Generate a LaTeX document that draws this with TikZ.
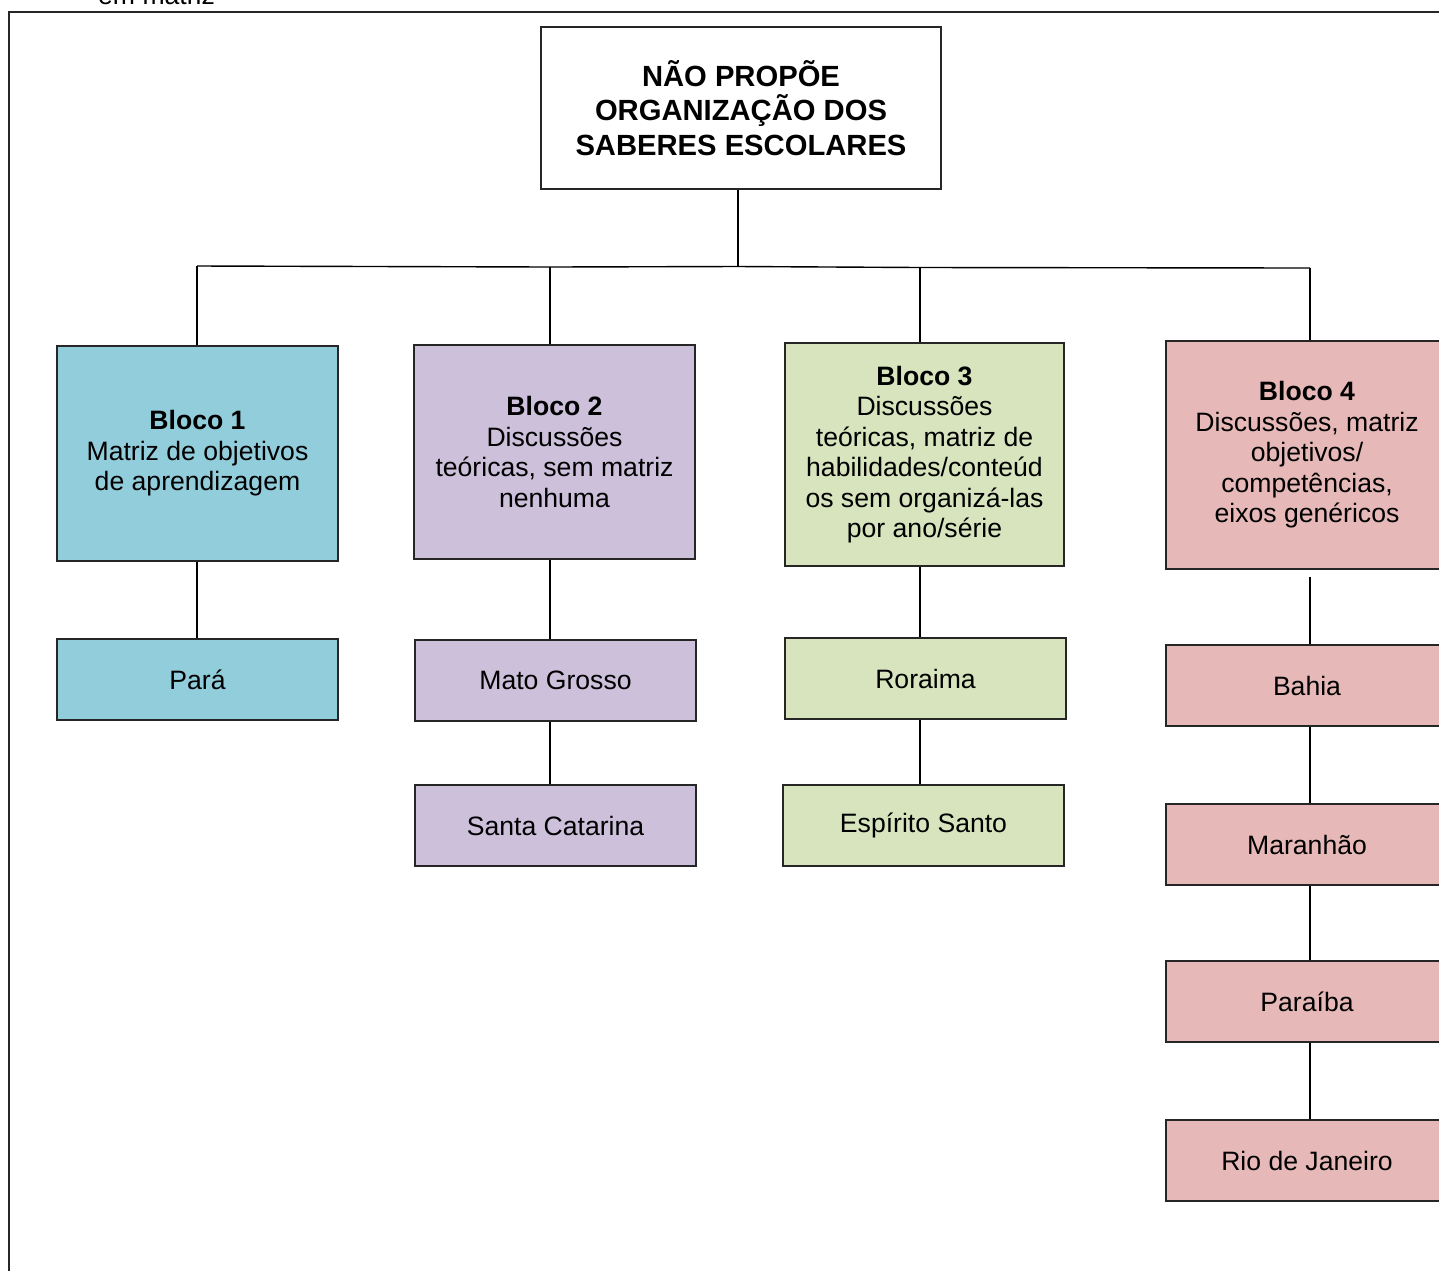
\documentclass[tikz,border=0pt]{standalone}
\usepackage{fontspec}
\setmainfont{Liberation Sans}
\definecolor{cblue}{HTML}{92CDDC}
\definecolor{cpurple}{HTML}{CCC0DA}
\definecolor{cgreen}{HTML}{D7E4BD}
\definecolor{cpink}{HTML}{E6B9B8}
\definecolor{edge}{HTML}{262626}
\begin{document}
\begin{tikzpicture}[x=1pt,y=-1pt,
  box/.style={draw=edge,line width=1.1pt,inner sep=0pt,align=center,
    font=\fontsize{26.6}{30.5}\selectfont},
  leaf/.style={box,minimum width=281pt,minimum height=81pt},
  conn/.style={line width=1.4pt,black}]
\useasboundingbox (0,0) rectangle (1439,1270);
\clip (0,0) rectangle (1439,1270);
% outer frame and clipped caption
\draw[line width=1.1pt,edge] (9,1290) -- (9,12) -- (1460,12);
\node[anchor=base west,inner sep=0pt,font=\fontsize{26.6}{30.5}\selectfont] (cap) at (98,4) {em matriz};
% title
\node[box,minimum width=400pt,minimum height=162pt,font=\bfseries\fontsize{29.2}{34.5}\selectfont] (t) at (741,108)
  {NÃO PROPÕE\\ORGANIZAÇÃO DOS\\SABERES ESCOLARES};
% blocks
\node[box,fill=cblue,minimum width=281pt,minimum height=215pt] (b1) at (197.5,453.5)
  {\textbf{Bloco 1}\\Matriz de objetivos\\de aprendizagem};
\node[box,fill=cpurple,minimum width=281pt,minimum height=214pt] (b2) at (554.5,452)
  {\textbf{Bloco 2}\\Discussões\\teóricas, sem matriz\\nenhuma};
\node[box,fill=cgreen,minimum width=279pt,minimum height=223pt] (b3) at (924.5,454.5)
  {\textbf{Bloco 3}\\Discussões\\teóricas, matriz de\\habilidades/conteúd\\os sem organizá-las\\por ano/série};
\node[box,fill=cpink,minimum width=282pt,minimum height=228pt] (b4) at (1307,455)
  {\textbf{Bloco 4}\\Discussões, matriz\\objetivos/\\competências,\\eixos genéricos};
% leaves
\node[leaf,fill=cblue] (pa) at (197.5,679.5) {Pará};
\node[leaf,fill=cpurple] (mt) at (555.5,680.5) {Mato Grosso};
\node[leaf,fill=cpurple] (sc) at (555.5,825.5) {Santa Catarina};
\node[leaf,fill=cgreen] (rr) at (925.5,678.5) {Roraima};
\node[leaf,fill=cgreen] (es) at (923.5,825.5) {Espírito Santo};
\node[leaf,fill=cpink,minimum width=282pt] (ba) at (1307,685.5) {Bahia};
\node[leaf,fill=cpink,minimum width=282pt] (ma) at (1307,844.5) {Maranhão};
\node[leaf,fill=cpink,minimum width=282pt] (pb) at (1307,1001.5) {Paraíba};
\node[leaf,fill=cpink,minimum width=282pt] (rj) at (1307,1160.5) {Rio de Janeiro};
% bus coordinates
\coordinate (top) at (738,266.5);
\coordinate (d1) at (197,266);
\coordinate (d2) at (550,267);
\coordinate (d3) at (920,267.5);
\coordinate (d4) at (1310,268);
% connectors
\draw[conn] (t.south -| top) -- (top);
\draw[conn] (d1) -- (d2) -- (top) -- (d3) -- (d4);
\draw[conn] (d1) -- (b1.north -| d1);
\draw[conn] (d2) -- (b2.north -| d2);
\draw[conn] (d3) -- (b3.north -| d3);
\draw[conn] (d4) -- (b4.north -| d4);
\draw[conn] (b1.south -| d1) -- (pa.north -| d1);
\draw[conn] (b2.south -| d2) -- (mt.north -| d2);
\draw[conn] (mt.south -| d2) -- (sc.north -| d2);
\draw[conn] (b3.south -| d3) -- (rr.north -| d3);
\draw[conn] (rr.south -| d3) -- (es.north -| d3);
\draw[conn] ([yshift=-7pt]b4.south -| d4) -- (ba.north -| d4);
\draw[conn] (ba.south -| d4) -- (ma.north -| d4);
\draw[conn] (ma.south -| d4) -- (pb.north -| d4);
\draw[conn] (pb.south -| d4) -- (rj.north -| d4);
\end{tikzpicture}
\end{document}
